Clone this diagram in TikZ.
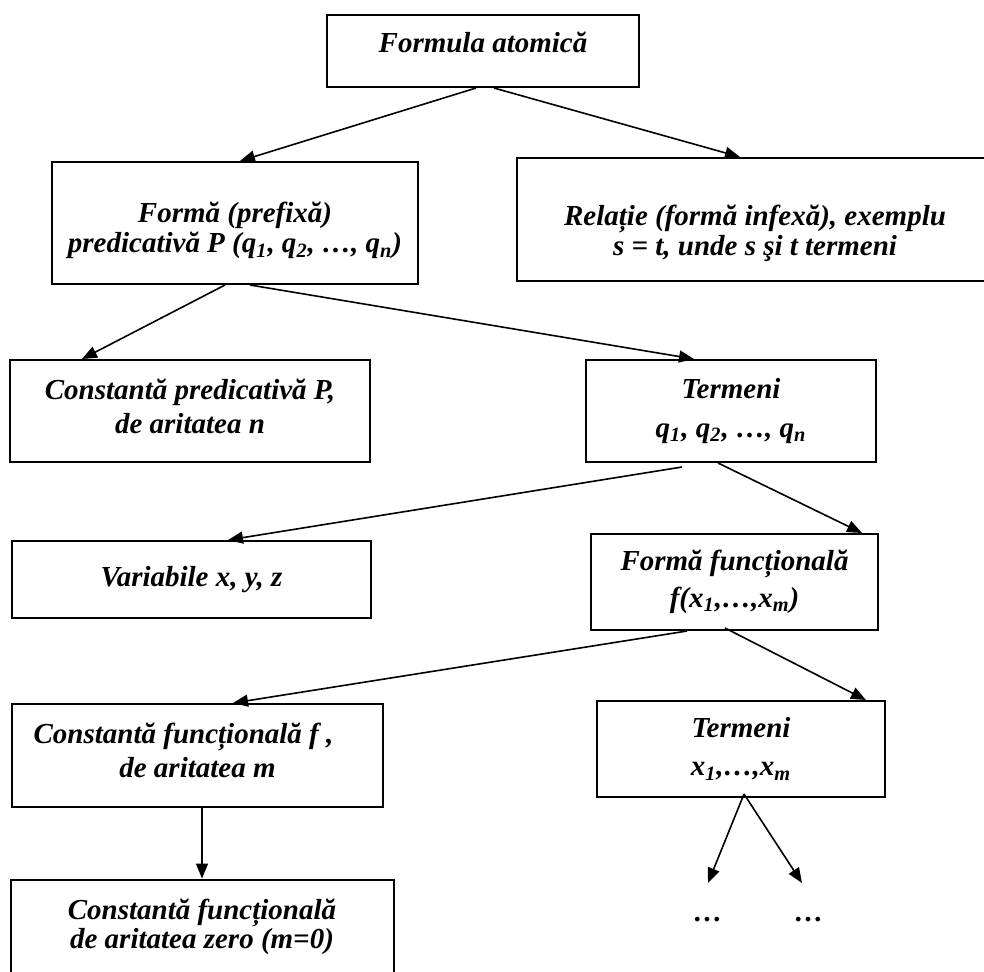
\documentclass[tikz,border=0pt]{standalone}
\usepackage{fontspec}
\setmainfont{Liberation Serif}
\usepackage{tikz}
\usetikzlibrary{arrows.meta}

\begin{document}
\begin{tikzpicture}[x=0.5pt, y=-0.5pt,
    box/.style={draw, line width=1pt, align=center, inner sep=0pt, font=\fontsize{14.5}{15}\selectfont\bfseries\itshape},
    link/.style={-{Triangle[length=7.5pt, width=6pt]}, line width=0.8pt},
    dotsbox/.style={font=\fontsize{14.5}{15}\selectfont\bfseries\itshape}]
    \useasboundingbox (0,0) rectangle (984,971);

    \node[box, minimum width=156pt, minimum height=36pt] (atom) at (483,51) {Formula atomică\rule[-9pt]{0pt}{9pt}};
    \node[box, minimum width=183pt, minimum height=61pt] (prefix) at (235,223) {\rule{0pt}{18pt}Formă (prefixă)\\ predicativă P (q\textsubscript{1}, q\textsubscript{2}, …, q\textsubscript{n})};
    \node[box, minimum width=238pt, minimum height=61.5pt] (rel) at (755,219.5) {\rule{0pt}{24pt}Relație (formă infexă), exemplu\\ s = t, unde s şi t termeni};
    \node[box, minimum width=180pt, minimum height=51pt] (cpred) at (190,411) {Constantă predicativă P,\\[2pt] de aritatea n\rule[-5pt]{0pt}{5pt}};
    \node[box, minimum width=145pt, minimum height=51pt] (term1) at (731,411) {Termeni\\[4.5pt] q\textsubscript{1}, q\textsubscript{2}, …, q\textsubscript{n}};
    \node[box, minimum width=179.5pt, minimum height=38.5pt] (var) at (191.5,579.5) {Variabile x, y, z};
    \node[box, minimum width=143.5pt, minimum height=48pt] (ffunc) at (734.5,582) {Formă funcțională\\[3.5pt] f(x\textsubscript{1},…,x\textsubscript{m})};
    \node[box, minimum width=185.5pt, minimum height=51.5pt] (cfunc) at (197.5,755.5) {Constantă funcțională f ,\hspace*{14pt}\\[2pt] de aritatea m\rule[-5pt]{0pt}{5pt}};
    \node[box, minimum width=144pt, minimum height=48pt] (term2) at (741,749) {Termeni\\[4pt] x\textsubscript{1},…,x\textsubscript{m}};
    \node[box, minimum width=191.5pt, minimum height=47.5pt] (czero) at (202,927) {Constantă funcțională\\[-0.5pt] de aritatea zero (m=0)};
    \node[dotsbox] (dotsl) at (708,920) {…};
    \node[dotsbox] (dotsr) at (809,920) {…};
    \coordinate (tipl) at (708,883);
    \coordinate (tipr) at (802,883);

    \draw[link] ([xshift=-3.5pt]atom.south) -- ([xshift=2.5pt]prefix.north);
    \draw[link] ([xshift=5.5pt]atom.south) -- ([xshift=-7.5pt]rel.north);
    \draw[link] ([xshift=-5pt]prefix.south) -- ([xshift=-54pt]cpred.north);
    \draw[link] ([xshift=7.5pt]prefix.south) -- ([xshift=-18.5pt]term1.north);
    \draw[link] ([xshift=-24.5pt,yshift=-2pt]term1.south) -- ([xshift=18.25pt]var.north);
    \draw[link] ([xshift=-6.5pt]term1.south) -- ([xshift=63.75pt]ffunc.north);
    \draw[link] ([xshift=-23.75pt]ffunc.south) -- ([xshift=17.75pt]cfunc.north);
    \draw[link] ([xshift=-4.75pt,yshift=1.5pt]ffunc.south) -- ([xshift=62.5pt]term2.north);
    \draw[link] (cfunc.south -| czero.north) -- (czero.north);
    \draw[link] ([xshift=1.5pt,yshift=2pt]term2.south) -- (tipl);
    \draw[link] ([xshift=1.5pt,yshift=2pt]term2.south) -- (tipr);
\end{tikzpicture}
\end{document}
